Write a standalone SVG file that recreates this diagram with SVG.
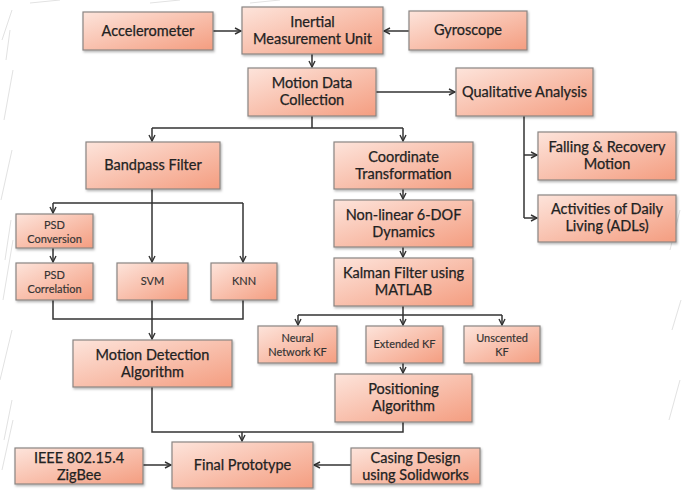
<svg xmlns="http://www.w3.org/2000/svg" width="682" height="490" viewBox="0 0 682 490">
<defs>
<linearGradient id="g" x1="0" y1="0" x2="1" y2="1">
<stop offset="0" stop-color="#fde4db"/>
<stop offset="1" stop-color="#f49d80"/>
</linearGradient>
<filter id="sh" x="-10%" y="-10%" width="130%" height="140%">
<feDropShadow dx="1" dy="1.5" stdDeviation="1" flood-color="#000" flood-opacity="0.3"/>
</filter>
<marker id="a" viewBox="0 0 8 8" refX="7" refY="4" markerWidth="8" markerHeight="8" markerUnits="userSpaceOnUse" orient="auto">
<path d="M1,1 L7,4 L1,7" fill="none" stroke="#333" stroke-width="1.4"/>
</marker>
</defs>
<style>
.b{fill:url(#g);stroke:#8a8583;stroke-width:1.2;filter:url(#sh)}
.t{font-family:Lato,"Open Sans","Liberation Sans",sans-serif;font-size:14.5px;fill:#222;stroke:#222;stroke-width:0.25;text-anchor:middle}
.s{font-family:Lato,"Open Sans","Liberation Sans",sans-serif;font-size:11px;fill:#333;stroke:#333;stroke-width:0.15;text-anchor:middle}
.c{fill:none;stroke:#333;stroke-width:1.5}
.ar{marker-end:url(#a)}
.bg{fill:none;stroke:#e2e2e2;stroke-width:1}
</style>
<rect width="682" height="490" fill="#fff"/>
<g id="texture">
<path class="bg" d="M2,40 L12,10 M4,120 L13,70 M1,200 L12,150 M3,300 L13,240 M0,380 L12,330 M2,470 L13,420 M6,60 L10,30 M5,260 L11,220 M4,440 L12,400 M670,250 L680,210 M672,330 L681,300 M669,420 L680,380 M30,3 L60,0 M150,3 L180,0 M250,3 L280,0"/>
</g>
<g id="connectors">
<path class="c ar" d="M213,31 L241,31"/>
<path class="c ar" d="M409,31 L384,31"/>
<path class="c ar" d="M312,54 L312,67"/>
<path class="c ar" d="M376,92 L455,92"/>
<path class="c" d="M312,116 L312,128 M152,128 L403,128"/>
<path class="c ar" d="M152,128 L152,141"/>
<path class="c ar" d="M403,128 L403,141"/>
<path class="c" d="M524,116 L524,218"/>
<path class="c ar" d="M524,155 L537,155"/>
<path class="c ar" d="M524,218 L537,218"/>
<path class="c" d="M152,189 L152,203 M53,203 L243,203"/>
<path class="c ar" d="M53,203 L53,213"/>
<path class="c ar" d="M152,203 L152,262"/>
<path class="c ar" d="M243,203 L243,262"/>
<path class="c ar" d="M53,248 L53,262"/>
<path class="c" d="M53,300 L53,319 L243,319 L243,300"/>
<path class="c ar" d="M152,300 L152,339"/>
<path class="c ar" d="M403,189 L403,199"/>
<path class="c ar" d="M403,247 L403,257"/>
<path class="c" d="M403,306 L403,315 M298,315 L502,315"/>
<path class="c ar" d="M298,315 L298,325"/>
<path class="c ar" d="M403,315 L403,325"/>
<path class="c ar" d="M502,315 L502,325"/>
<path class="c ar" d="M403,363 L403,373"/>
<path class="c" d="M152,387 L152,432 L403,432 L403,422"/>
<path class="c ar" d="M242,432 L242,441"/>
<path class="c ar" d="M143,465 L171,465"/>
<path class="c ar" d="M351,465 L314,465"/>
</g>
<g id="accelerometer"><rect class="b" x="83" y="12" width="130" height="38"/><text class="t" x="148" y="36">Accelerometer</text></g>
<g id="imu"><rect class="b" x="242" y="7" width="141" height="47"/><text class="t" x="312.5" y="27">Inertial</text><text class="t" x="312.5" y="44">Measurement Unit</text></g>
<g id="gyroscope"><rect class="b" x="409" y="11" width="118" height="39"/><text class="t" x="468" y="35">Gyroscope</text></g>
<g id="motion-data"><rect class="b" x="248" y="68" width="128" height="48"/><text class="t" x="312" y="88">Motion Data</text><text class="t" x="312" y="105">Collection</text></g>
<g id="qualitative"><rect class="b" x="456" y="68" width="137" height="48"/><text class="t" x="524.5" y="97">Qualitative Analysis</text></g>
<g id="falling"><rect class="b" x="538" y="132" width="138" height="48"/><text class="t" x="607" y="152">Falling &amp; Recovery</text><text class="t" x="607" y="169">Motion</text></g>
<g id="adl"><rect class="b" x="538" y="195" width="138" height="47"/><text class="t" x="607" y="214">Activities of Daily</text><text class="t" x="607" y="231">Living (ADLs)</text></g>
<g id="bandpass"><rect class="b" x="86" y="142" width="134" height="47"/><text class="t" x="153" y="170">Bandpass Filter</text></g>
<g id="coordinate"><rect class="b" x="334" y="142" width="139" height="47"/><text class="t" x="403.5" y="162">Coordinate</text><text class="t" x="403.5" y="179">Transformation</text></g>
<g id="nonlinear"><rect class="b" x="334" y="200" width="139" height="47"/><text class="t" x="403.5" y="220">Non-linear 6-DOF</text><text class="t" x="403.5" y="237">Dynamics</text></g>
<g id="kalman"><rect class="b" x="334" y="258" width="139" height="48"/><text class="t" x="403.5" y="278">Kalman Filter using</text><text class="t" x="403.5" y="295">MATLAB</text></g>
<g id="psd-conversion"><rect class="b" x="16" y="214" width="77" height="34"/><text class="s" x="54.5" y="229">PSD</text><text class="s" x="54.5" y="243">Conversion</text></g>
<g id="psd-correlation"><rect class="b" x="16" y="263" width="77" height="37"/><text class="s" x="54.5" y="279">PSD</text><text class="s" x="54.5" y="293">Correlation</text></g>
<g id="svm"><rect class="b" x="117" y="263" width="71" height="37"/><text class="s" x="152.5" y="285">SVM</text></g>
<g id="knn"><rect class="b" x="211" y="263" width="66" height="37"/><text class="s" x="244" y="285">KNN</text></g>
<g id="motion-detection"><rect class="b" x="73" y="340" width="159" height="47"/><text class="t" x="152.5" y="360">Motion Detection</text><text class="t" x="152.5" y="377">Algorithm</text></g>
<g id="neural-kf"><rect class="b" x="258" y="326" width="79" height="37"/><text class="s" x="297.5" y="342">Neural</text><text class="s" x="297.5" y="356">Network KF</text></g>
<g id="extended-kf"><rect class="b" x="366" y="326" width="77" height="37"/><text class="s" x="404.5" y="348">Extended KF</text></g>
<g id="unscented-kf"><rect class="b" x="464" y="326" width="76" height="37"/><text class="s" x="502" y="342">Unscented</text><text class="s" x="502" y="356">KF</text></g>
<g id="positioning"><rect class="b" x="335" y="374" width="137" height="48"/><text class="t" x="403.5" y="394">Positioning</text><text class="t" x="403.5" y="411">Algorithm</text></g>
<g id="final-prototype"><rect class="b" x="172" y="442" width="141" height="46"/><text class="t" x="242.5" y="470">Final Prototype</text></g>
<g id="zigbee"><rect class="b" x="15" y="448" width="128" height="36"/><text class="t" x="79" y="463">IEEE 802.15.4</text><text class="t" x="79" y="480">ZigBee</text></g>
<g id="casing"><rect class="b" x="351" y="448" width="129" height="36"/><text class="t" x="415.5" y="463">Casing Design</text><text class="t" x="415.5" y="480">using Solidworks</text></g>
</svg>
